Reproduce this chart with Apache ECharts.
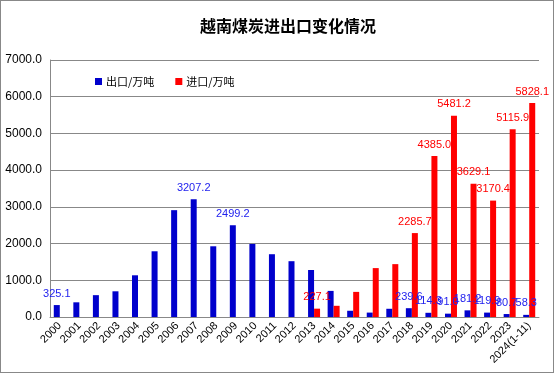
<!DOCTYPE html>
<html>
<head>
<meta charset="utf-8">
<script src="https://cdn.jsdelivr.net/npm/echarts@6/dist/echarts.min.js"></script>
<style>
html,body{margin:0;padding:0;background:#fff;}
#frame{position:absolute;left:0;top:0;width:552px;height:371px;border:1px solid #888;}
#chart{position:absolute;left:0;top:0;width:556px;height:374px;}
</style>
</head>
<body>
<div id="frame"></div>
<div id="chart"></div>
<script>
const categories = ['2000','2001','2002','2003','2004','2005','2006','2007','2008','2009','2010','2011','2012','2013','2014','2015','2016','2017','2018','2019','2020','2021','2022','2023','2024(1-11)'];
const exportValues = [325.1,400,595,700,1136,1790,2910,3207.2,1926,2499.2,1990,1710,1520,1280,711,170,120,224,239.6,114.3,91.0,181.2,119.9,80.7,58.3];
const importValues = [null,null,null,null,null,null,null,null,null,null,null,null,null,227.1,305,684,1332,1440,2285.7,4385.0,5481.2,3629.1,3170.4,5115.9,5828.1];
const exportLabeled = ['2000','2007','2009','2018','2019','2020','2021','2022','2023','2024(1-11)'];
const importLabeled = ['2013','2018','2019','2020','2021','2022','2023','2024(1-11)'];
const yTicks = [0,1000,2000,3000,4000,5000,6000,7000];

function build(values, labeled){
  return values.map((v,i)=>({value:v,label:{show:labeled.indexOf(categories[i])>=0}}));
}

const chart = echarts.init(document.getElementById('chart'));
const numFont = 'Liberation Sans, Arial, sans-serif';
chart.setOption({
  animation:false,
  title:{text:'越南煤炭进出口变化情况',left:195,top:13,
    textStyle:{fontFamily:'Noto Sans CJK SC',fontSize:16,fontWeight:'bold',color:'#000'}},
  legend:{left:90,top:71,itemWidth:7,itemHeight:7,itemGap:21,icon:'rect',
    textStyle:{fontFamily:'Noto Sans CJK SC',fontSize:11,color:'#000',padding:[0,0,0,-1]},
    data:['出口/万吨','进口/万吨']},
  grid:{left:50,right:17,top:60,bottom:57,containLabel:false},
  xAxis:{type:'category',data:categories,
    axisLine:{lineStyle:{color:'#888'}},axisTick:{show:false},
    axisLabel:{rotate:45,interval:0,fontSize:11,fontFamily:numFont,color:'#000',margin:7}},
  yAxis:{type:'value',min:yTicks[0],max:yTicks[yTicks.length-1],interval:1000,
    axisLine:{show:true,lineStyle:{color:'#888'}},axisTick:{show:false},
    splitLine:{lineStyle:{color:'#888',width:1}},
    axisLabel:{formatter:v=>v.toFixed(1),fontSize:12,fontFamily:numFont,color:'#000',margin:8}},
  series:[
    {name:'出口/万吨',type:'bar',barWidth:6,barGap:'0%',data:build(exportValues,exportLabeled),
      itemStyle:{color:'#0000CC'},
      label:{position:'top',distance:6,fontSize:11,fontFamily:numFont,color:'#2222EE',formatter:p=>p.value.toFixed(1)}},
    {name:'进口/万吨',type:'bar',barWidth:6,barGap:'0%',data:build(importValues,importLabeled),
      itemStyle:{color:'#FF0000'},
      label:{position:'top',distance:6,fontSize:11,fontFamily:numFont,color:'#FF0000',formatter:p=>p.value.toFixed(1)}}
  ]
});
</script>
</body>
</html>
